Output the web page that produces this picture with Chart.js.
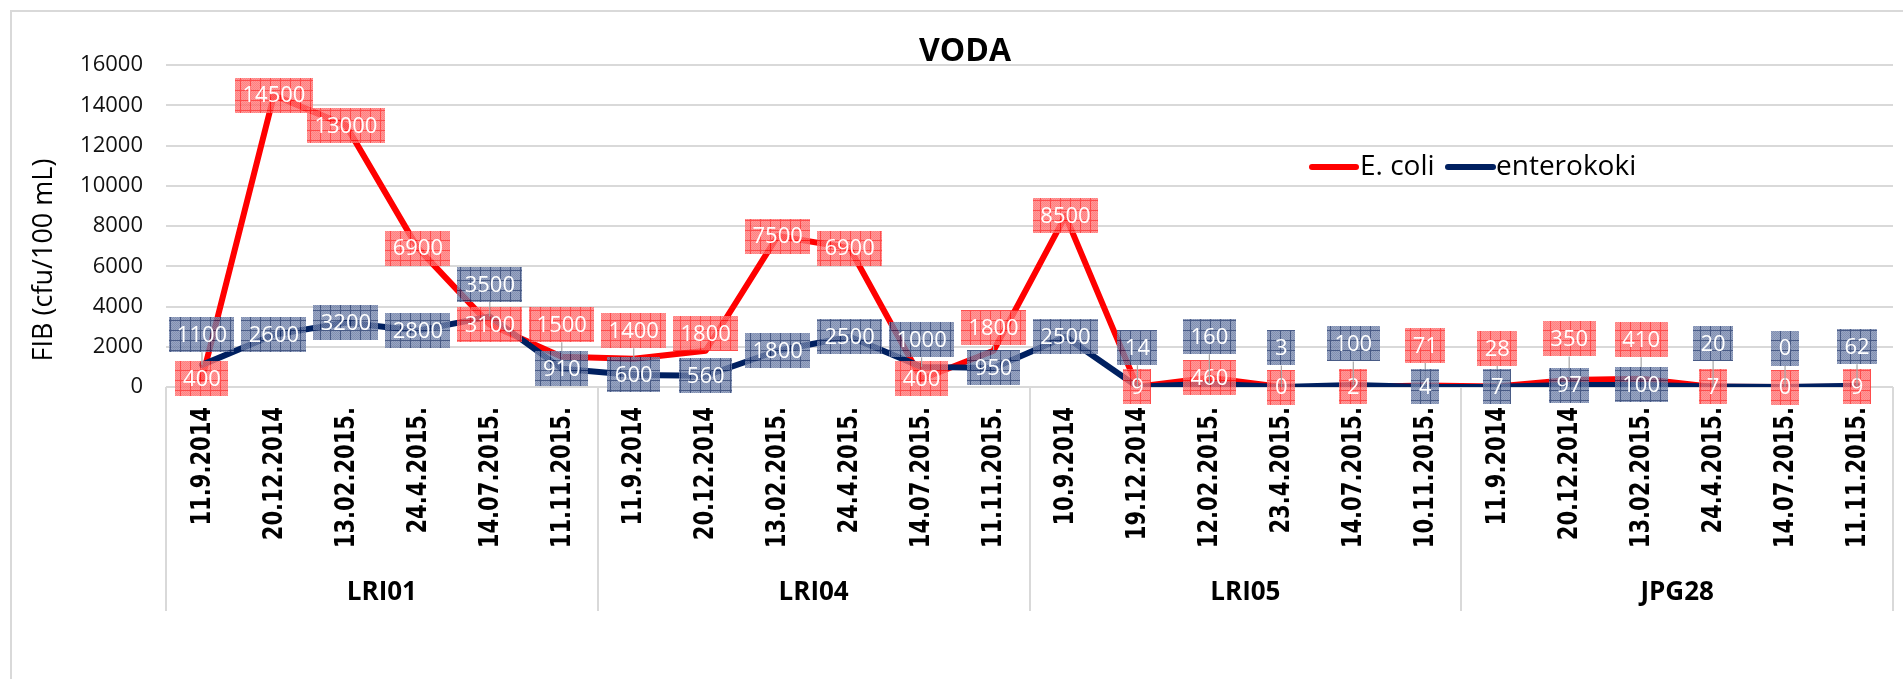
<!DOCTYPE html>
<html>
<head>
<meta charset="utf-8">
<script src="https://cdn.jsdelivr.net/npm/chart.js@4.4.0/dist/chart.umd.min.js"></script>
<style>
html,body{margin:0;padding:0;background:#fff;overflow:hidden}
canvas{display:block}
</style>
</head>
<body>
<canvas id="c" width="1903" height="679"></canvas>
<script>
// ---------- data ----------
const categories = [
  '11.9.2014','20.12.2014','13.02.2015.','24.4.2015.','14.07.2015.','11.11.2015.',
  '11.9.2014','20.12.2014','13.02.2015.','24.4.2015.','14.07.2015.','11.11.2015.',
  '10.9.2014','19.12.2014','12.02.2015.','23.4.2015.','14.07.2015.','10.11.2015.',
  '11.9.2014','20.12.2014','13.02.2015.','24.4.2015.','14.07.2015.','11.11.2015.'
];
const groups = ['LRI01','LRI04','LRI05','JPG28'];
const groupSize = 6;
const ecoli = [400,14500,13000,6900,3100,1500, 1400,1800,7500,6900,400,1800, 8500,9,460,0,2,71, 28,350,410,7,0,9];
const enterokoki = [1100,2600,3200,2800,3500,910, 600,560,1800,2500,1000,950, 2500,14,160,3,100,4, 7,97,100,20,0,62];
const yTicks = [0,2000,4000,6000,8000,10000,12000,14000,16000];
const seriesNames = ['E. coli','enterokoki'];
const chartTitle = 'VODA';
const yTitle = 'FIB (cfu/100 mL)';

// label placement (pixel shift of each data label relative to its point; style only)
const ecoliLabelShift = [0,0,0,0,0,-32, -28,-17,0,0,0,-23, 0,0,0,0,0,-40, -38,-41,-39,0,0,0];
const enteroLabelShift = [-30,0,0,0,-32,0, 0,0,0,0,-27,0, 0,-39,-47,-39,-41,0, 0,0,0,-43,-39,-39];

// ---------- styles ----------
const RED = '#ff0000', NAVY = '#002060', GRID = '#d9d9d9';

function makePattern(ctx, base, dot, grid) {
  const c = document.createElement('canvas');
  c.width = 10; c.height = 10;
  const g = c.getContext('2d');
  g.fillStyle = base; g.fillRect(0, 0, 10, 10);
  g.fillStyle = dot;
  for (let y = 0; y < 10; y++) for (let x = 0; x < 10; x++) if ((x + y) % 2 === 0) g.fillRect(x, y, 1, 1);
  g.fillStyle = grid; g.fillRect(0, 0, 10, 1); g.fillRect(0, 0, 1, 10);
  return ctx.createPattern(c, 'repeat');
}

const decorPlugin = {
  id: 'decor',
  beforeDraw(chart) {
    const ctx = chart.ctx;
    ctx.save();
    ctx.fillStyle = '#fff';
    ctx.fillRect(0, 0, chart.width, chart.height);
    ctx.strokeStyle = GRID; ctx.lineWidth = 2;
    ctx.strokeRect(11, 11, 3000, 3000);
    ctx.restore();
  },
  beforeDatasetsDraw(chart) {
    const ctx = chart.ctx, x = chart.scales.x, a = chart.chartArea;
    ctx.save();
    ctx.strokeStyle = GRID; ctx.lineWidth = 2;
    for (let gi = 0; gi <= groups.length; gi++) {
      const px = Math.round(x.getPixelForValue(gi * groupSize - 0.5));
      ctx.beginPath(); ctx.moveTo(px, a.bottom); ctx.lineTo(px, 611); ctx.stroke();
    }
    ctx.restore();
  },
  afterDatasetsDraw(chart) {
    const ctx = chart.ctx;
    const redPat = makePattern(ctx, '#ff8080', '#ff6060', '#ff2020');
    const bluePat = makePattern(ctx, '#8090b4', '#62749e', '#1c3268');
    const specs = [
      {ds: 0, vals: ecoli, shift: ecoliLabelShift, pat: redPat},
      {ds: 1, vals: enterokoki, shift: enteroLabelShift, pat: bluePat}
    ];
    ctx.save();
    ctx.font = '22px "Open Sans"';
    ctx.textAlign = 'center'; ctx.textBaseline = 'middle';
    specs.forEach(s => {
      const meta = chart.getDatasetMeta(s.ds);
      meta.data.forEach((pt, i) => {
        const txt = String(s.vals[i]);
        const w = Math.round(ctx.measureText(txt).width + 15), h = 35;
        const cx = pt.x, cy = pt.y + s.shift[i];
        if (s.shift[i] < -10) {
          ctx.globalAlpha = 1;
          ctx.strokeStyle = '#a6a6a6'; ctx.lineWidth = 1.2;
          ctx.beginPath(); ctx.moveTo(cx, cy + h / 2); ctx.lineTo(cx, pt.y); ctx.stroke();
        }
        ctx.globalAlpha = 0.8;
        ctx.fillStyle = s.pat;
        ctx.fillRect(Math.round(cx - w / 2), Math.round(cy - h / 2), w, h);
        ctx.globalAlpha = 1;
        ctx.fillStyle = '#ffffff';
        ctx.fillText(txt, cx, cy + 1);
      });
    });
    ctx.restore();
  },
  afterDraw(chart) {
    const ctx = chart.ctx, x = chart.scales.x, a = chart.chartArea;
    ctx.save();
    // category (date) labels, rotated
    ctx.fillStyle = '#000';
    ctx.font = 'bold 26px "DejaVu Sans"';
    ctx.textAlign = 'right'; ctx.textBaseline = 'middle';
    categories.forEach((lab, i) => {
      const px = x.getPixelForValue(i);
      ctx.save();
      ctx.translate(px, a.bottom + 20);
      ctx.rotate(-Math.PI / 2);
      ctx.scale(0.81, 1);
      ctx.fillText(lab, 0, 1);
      ctx.restore();
    });
    // title
    ctx.textAlign = 'center';
    ctx.font = 'bold 32px "Open Sans"';
    ctx.fillText(chartTitle, 965, 52);
    // y title
    ctx.save();
    ctx.translate(44, 260); ctx.rotate(-Math.PI / 2);
    ctx.font = '27px "Open Sans"';
    ctx.fillText(yTitle, 0, 0);
    ctx.restore();
    // group labels
    ctx.font = 'bold 26px "Open Sans"';
    groups.forEach((g, gi) => {
      const px = (x.getPixelForValue(gi * groupSize - 0.5) + x.getPixelForValue((gi + 1) * groupSize - 0.5)) / 2;
      ctx.fillText(g, px, 593);
    });
    // legend
    const ly = 167;
    const items = [{c: RED, x0: 1312, x1: 1356, tx: 1360}, {c: NAVY, x0: 1448, x1: 1493, tx: 1496}];
    ctx.font = '28px "Open Sans"';
    ctx.textAlign = 'left';
    items.forEach((it, k) => {
      ctx.strokeStyle = it.c; ctx.lineWidth = 6; ctx.lineCap = 'round';
      ctx.beginPath(); ctx.moveTo(it.x0, ly); ctx.lineTo(it.x1, ly); ctx.stroke();
      ctx.fillStyle = '#000';
      ctx.fillText(seriesNames[k], it.tx, ly);
    });
    ctx.restore();
  }
};

Chart.defaults.font.family = '"Open Sans", sans-serif';

new Chart(document.getElementById('c'), {
  type: 'line',
  data: {
    labels: categories,
    datasets: [
      {label: seriesNames[0], data: ecoli, borderColor: RED, backgroundColor: RED, borderWidth: 6,
       pointRadius: 0, tension: 0, borderJoinStyle: 'round', borderCapStyle: 'round', order: 2},
      {label: seriesNames[1], data: enterokoki, borderColor: NAVY, backgroundColor: NAVY, borderWidth: 6,
       pointRadius: 0, tension: 0, borderJoinStyle: 'round', borderCapStyle: 'round', order: 1}
    ]
  },
  options: {
    responsive: false,
    animation: false,
    devicePixelRatio: 1,
    events: [],
    layout: {padding: {left: 0, right: 10, top: 65, bottom: 0}},
    plugins: {legend: {display: false}, title: {display: false}, tooltip: {enabled: false}},
    scales: {
      x: {
        type: 'category',
        offset: true,
        grid: {display: false, drawTicks: false},
        border: {display: false},
        ticks: {display: false, autoSkip: false},
        afterFit(s) { s.height = 292; }
      },
      y: {
        min: 0, max: 16000,
        grid: {color: GRID, lineWidth: 2, drawTicks: false},
        border: {display: false},
        ticks: {padding: 23, color: '#111', font: {size: 22}, callback: v => String(v)},
        afterBuildTicks(s) { s.ticks = yTicks.map(v => ({value: v})); },
        afterFit(s) { s.width = 166; }
      }
    }
  },
  plugins: [decorPlugin]
});
</script>
</body>
</html>
